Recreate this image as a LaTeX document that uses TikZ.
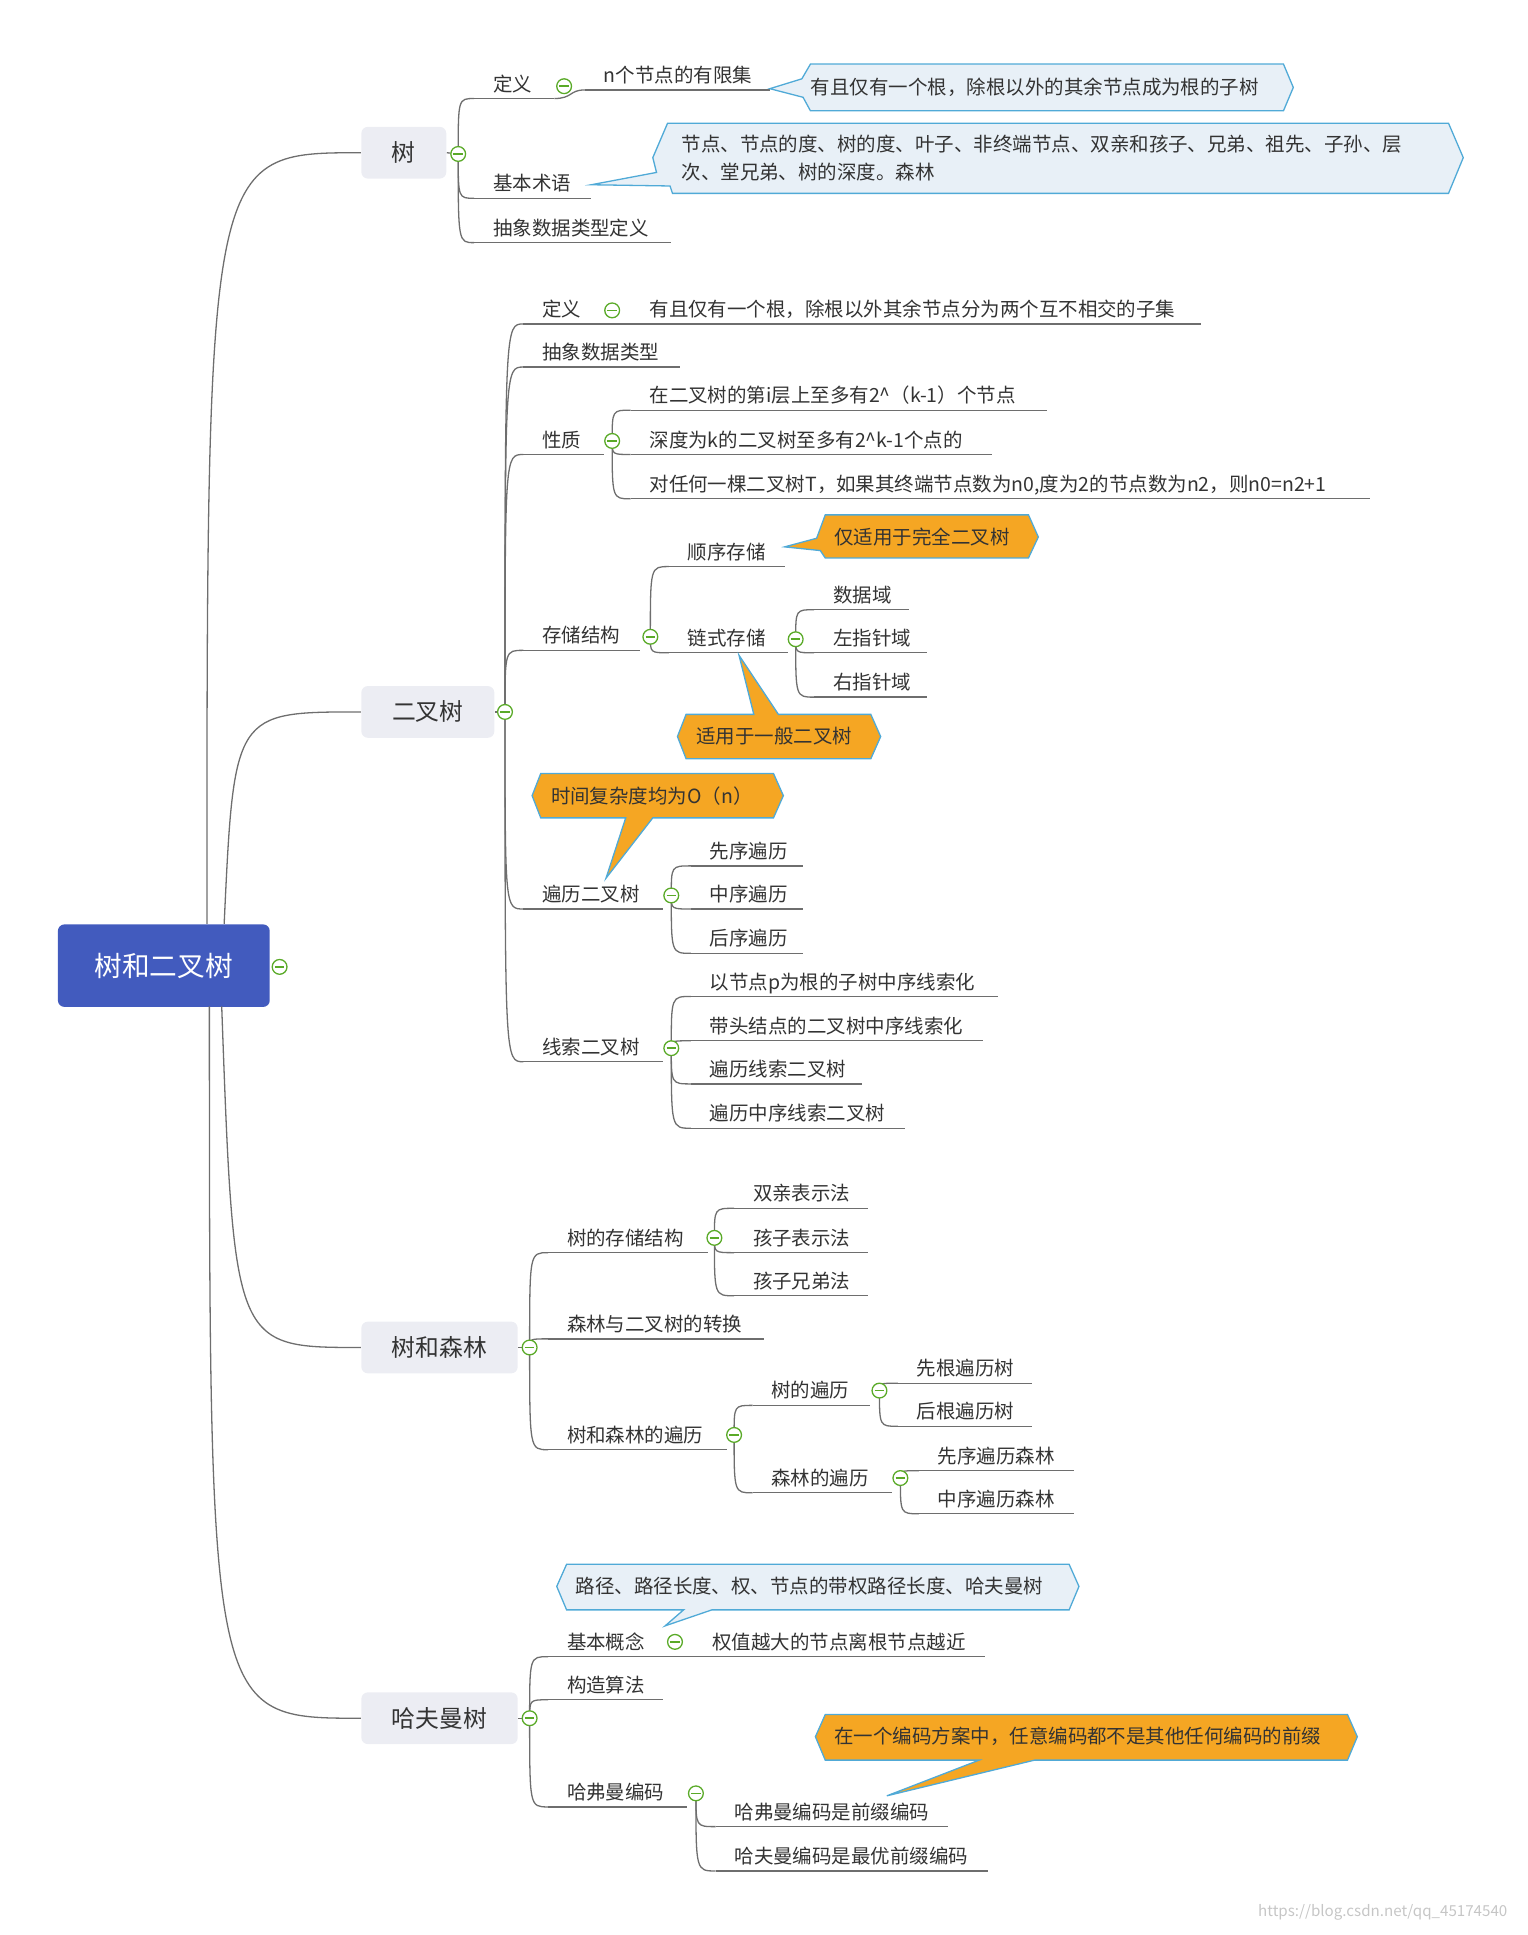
\documentclass[tikz,border=0pt]{standalone}
\usepackage{fontspec}
\setmainfont{Noto Sans CJK SC}
\usetikzlibrary{calc, backgrounds}
\definecolor{rootblue}{RGB}{66, 91, 190}
\definecolor{topicgray}{RGB}{236, 237, 243}
\definecolor{linegray}{RGB}{110, 110, 110}
\definecolor{textdark}{RGB}{51, 51, 51}
\definecolor{foldgreen}{RGB}{90, 170, 40}
\definecolor{tipblue}{RGB}{232, 240, 247}
\definecolor{tipedge}{RGB}{80, 170, 215}
\definecolor{tiporange}{RGB}{245, 166, 35}

% leaf: name, line start, line end, line y, text
\newcommand{\leafitem}[5]{%
  \coordinate (#1-s) at (#2,#4);
  \coordinate (#1-e) at (#3,#4);
  \node[leaftext] (#1) at (#2+15,#4-6) {#5};
  \draw[branch] (#1-s) -- (#1-e);
}
% curved connector from a fold point to a leaf start
\newcommand{\linkto}[2]{\draw[branch] (#1.center) .. controls ($(#1.center |- #2)$) .. (#2);}

\begin{document}
\begin{tikzpicture}[
    x=0.02cm, y=-0.02cm,
    branch/.style={line width=0.6pt, draw=linegray},
    leaftext/.style={anchor=base west, inner sep=0pt, text=textdark, font=\fontsize{9}{11}\selectfont},
    tiptext/.style={anchor=west, inner sep=0pt, text=textdark, font=\fontsize{9}{13}\selectfont, align=left},
    root/.style={rectangle, rounded corners=3pt, fill=rootblue, text=white, minimum width=3.44cm, minimum height=1.34cm, font=\fontsize{12.8}{15}\selectfont},
    topic/.style={rectangle, rounded corners=3pt, fill=topicgray, text=textdark, anchor=west, minimum height=0.84cm, font=\fontsize{11}{13}\selectfont},
    fold/.style={circle, draw=foldgreen, fill=white, line width=0.6pt, inner sep=0pt, minimum size=0.24cm,
      path picture={\draw[foldgreen, line width=0.8pt] ([xshift=-2.2pt]path picture bounding box.center) -- ([xshift=2.2pt]path picture bounding box.center);}},
    bluetip/.style={fill=tipblue, draw=tipedge, line width=0.6pt},
    orangetip/.style={fill=tiporange, draw=tipedge, line width=0.6pt}
]
\useasboundingbox (0,0) rectangle (1240,1571);

% main topics
\node[root] (root) at (133,784) {树和二叉树};
\node[topic, minimum width=1.38cm] (tree) at (293,124) {树};
\node[topic, minimum width=2.16cm] (btree) at (293,578) {二叉树};
\node[topic, minimum width=2.54cm] (forest) at (293,1094) {树和森林};
\node[topic, minimum width=2.54cm] (huff) at (293,1395) {哈夫曼树};

\coordinate (r1) at (168,750);
\coordinate (r2) at (182,750);
\coordinate (r3) at (180,817);
\coordinate (r4) at (170,817);
\draw[branch] (r1) .. controls (168,124) .. (tree.west);
\draw[branch] (r2) .. controls (190,578) .. (btree.west);
\draw[branch] (r3) .. controls (190,1094) .. (forest.west);
\draw[branch] (r4) .. controls (170,1395) .. (huff.west);

% tree
\leafitem{tdef}{385}{450}{80}{定义}
\leafitem{tfin}{475}{625}{73}{n个节点的有限集}
\leafitem{tterm}{385}{480}{161}{基本术语}
\leafitem{tadt}{385}{545}{197}{抽象数据类型定义}
\draw[branch] (tdef-e) .. controls (465,80) and (462,73) .. (tfin-s);

% binary tree
\leafitem{bdef}{425}{975}{263}{定义}
\node[leaftext] (bdeftext) at (527,257) {有且仅有一个根，除根以外其余节点分为两个互不相交的子集};
\leafitem{badt}{425}{552}{298}{抽象数据类型}
\leafitem{bprop}{425}{490}{369}{性质}
\leafitem{bp1}{512}{850}{333}{在二叉树的第i层上至多有2\textasciicircum（k-1）个节点}
\leafitem{bp2}{512}{805}{369}{深度为k的二叉树至多有2\textasciicircum k-1个点的}
\leafitem{bp3}{512}{1112}{405}{对任何一棵二叉树T，如果其终端节点数为n0,度为2的节点数为n2，则n0=n2+1}
\leafitem{bsto}{425}{520}{528}{存储结构}
\leafitem{bseq}{543}{637}{460}{顺序存储}
\leafitem{blnk}{543}{640}{530}{链式存储}
\leafitem{bl1}{661}{738}{495}{数据域}
\leafitem{bl2}{661}{753}{530}{左指针域}
\leafitem{bl3}{661}{753}{566}{右指针域}
\leafitem{btrv}{425}{538}{738}{遍历二叉树}
\leafitem{bt1}{561}{652}{703}{先序遍历}
\leafitem{bt2}{561}{652}{738}{中序遍历}
\leafitem{bt3}{561}{652}{774}{后序遍历}
\leafitem{bthr}{425}{538}{862}{线索二叉树}
\leafitem{bh1}{561}{810}{809}{以节点p为根的子树中序线索化}
\leafitem{bh2}{561}{798}{845}{带头结点的二叉树中序线索化}
\leafitem{bh3}{561}{700}{880}{遍历线索二叉树}
\leafitem{bh4}{561}{735}{916}{遍历中序线索二叉树}

% tree and forest
\leafitem{fsto}{445}{575}{1017}{树的存储结构}
\leafitem{fs1}{596}{705}{981}{双亲表示法}
\leafitem{fs2}{596}{705}{1017}{孩子表示法}
\leafitem{fs3}{596}{705}{1052}{孩子兄弟法}
\leafitem{fcon}{445}{620}{1087}{森林与二叉树的转换}
\leafitem{ftrv}{445}{590}{1177}{树和森林的遍历}
\leafitem{ftt}{611}{706}{1141}{树的遍历}
\leafitem{ftt1}{729}{838}{1123}{先根遍历树}
\leafitem{ftt2}{729}{838}{1158}{后根遍历树}
\leafitem{ftf}{611}{724}{1212}{森林的遍历}
\leafitem{fff1}{746}{872}{1194}{先序遍历森林}
\leafitem{fff2}{746}{872}{1229}{中序遍历森林}

% huffman
\leafitem{hbas}{445}{800}{1345}{基本概念}
\node[leaftext] (hbastext) at (578,1339) {权值越大的节点离根节点越近};
\leafitem{halg}{445}{538}{1380}{构造算法}
\leafitem{hcod}{445}{558}{1467}{哈弗曼编码}
\leafitem{hc1}{581}{770}{1483}{哈弗曼编码是前缀编码}
\leafitem{hc2}{581}{802}{1519}{哈夫曼编码是最优前缀编码}

% fold markers
\node[fold] (rootf) at (227,785) {};
\node[fold] (tf) at (372,125) {};
\node[fold] (tdf) at (458,70) {};
\node[fold] (bf) at (410,578) {};
\node[fold] (bdf) at (497,252) {};
\node[fold] (bpf) at (497,358) {};
\node[fold] (bsf) at (528,517) {};
\node[fold] (blf) at (646,519) {};
\node[fold] (btf) at (545,727) {};
\node[fold] (bhf) at (545,851) {};
\node[fold] (ff) at (430,1094) {};
\node[fold] (fsf) at (580,1005) {};
\node[fold] (ftf) at (596,1165) {};
\node[fold] (fttf) at (714,1129) {};
\node[fold] (ftff) at (731,1200) {};
\node[fold] (hf) at (430,1395) {};
\node[fold] (hbf) at (548,1333) {};
\node[fold] (hcf) at (565,1456) {};

\begin{scope}[on background layer]
\draw[branch] (tree.east) -- (tf);
\draw[branch] (btree.east) -- (bf);
\draw[branch] (forest.east) -- (ff);
\draw[branch] (huff.east) -- (hf);
\foreach \a in {tdef, tterm, tadt} {\linkto{tf}{\a-s}}
\foreach \a in {bdef, badt, bprop, bsto, btrv, bthr} {\linkto{bf}{\a-s}}
\foreach \a in {bp1, bp2, bp3} {\linkto{bpf}{\a-s}}
\foreach \a in {bseq, blnk} {\linkto{bsf}{\a-s}}
\foreach \a in {bl1, bl2, bl3} {\linkto{blf}{\a-s}}
\foreach \a in {bt1, bt2, bt3} {\linkto{btf}{\a-s}}
\foreach \a in {bh1, bh2, bh3, bh4} {\linkto{bhf}{\a-s}}
\foreach \a in {fsto, fcon, ftrv} {\linkto{ff}{\a-s}}
\foreach \a in {fs1, fs2, fs3} {\linkto{fsf}{\a-s}}
\foreach \a in {ftt, ftf} {\linkto{ftf}{\a-s}}
\foreach \a in {ftt1, ftt2} {\linkto{fttf}{\a-s}}
\foreach \a in {fff1, fff2} {\linkto{ftff}{\a-s}}
\foreach \a in {hbas, halg, hcod} {\linkto{hf}{\a-s}}
\foreach \a in {hc1, hc2} {\linkto{hcf}{\a-s}}
\end{scope}

% callouts
\draw[bluetip] (658,52) -- (1042,52) -- (1050,71) -- (1042,90) -- (658,90) -- (652,79) -- (625,72) -- (651,64) -- cycle;
\node[tiptext] (tipfin) at (658,71) {有且仅有一个根，除根以外的其余节点成为根的子树};
\draw[bluetip] (542,100) -- (1176,100) -- (1188,128) -- (1176,157) -- (546,157) -- (544,151) -- (480,150) -- (533,140) -- (530,128) -- cycle;
\node[tiptext] (tipterm) at (553,128) {节点、节点的度、树的度、叶子、非终端节点、双亲和孩子、兄弟、祖先、子孙、层\\次、堂兄弟、树的深度。森林};
\draw[orangetip] (670,418) -- (835,418) -- (843,436) -- (835,453) -- (670,453) -- (666,447) -- (637,444) -- (663,437) -- cycle;
\node[tiptext] (tipseq) at (677,436) {仅适用于完全二叉树};
\draw[orangetip] (557,580) -- (612,580) -- (600,532) -- (632,580) -- (707,580) -- (715,598) -- (707,616) -- (557,616) -- (550,598) -- cycle;
\node[tiptext] (tiplnk) at (565,598) {适用于一般二叉树};
\draw[orangetip] (439,628) -- (628,628) -- (636,646) -- (628,664) -- (530,664) -- (492,713) -- (508,664) -- (439,664) -- (432,646) -- cycle;
\node[tiptext] (tiptrv) at (447,646) {时间复杂度均为O（n）};
\draw[bluetip] (460,1270) -- (868,1270) -- (876,1288) -- (868,1307) -- (578,1307) -- (540,1320) -- (555,1307) -- (460,1307) -- (452,1288) -- cycle;
\node[tiptext] (tipbas) at (467,1288) {路径、路径长度、权、节点的带权路径长度、哈夫曼树};
\draw[orangetip] (670,1392) -- (1094,1392) -- (1102,1410) -- (1094,1429) -- (840,1429) -- (720,1458) -- (795,1429) -- (670,1429) -- (662,1410) -- cycle;
\node[tiptext] (tipcod) at (677,1410) {在一个编码方案中，任意编码都不是其他任何编码的前缀};

\node[anchor=east, text=gray!45, font=\fontsize{7}{8}\selectfont] (mark) at (1230,1553) {https://blog.csdn.net/qq\_45174540};
\end{tikzpicture}
\end{document}
